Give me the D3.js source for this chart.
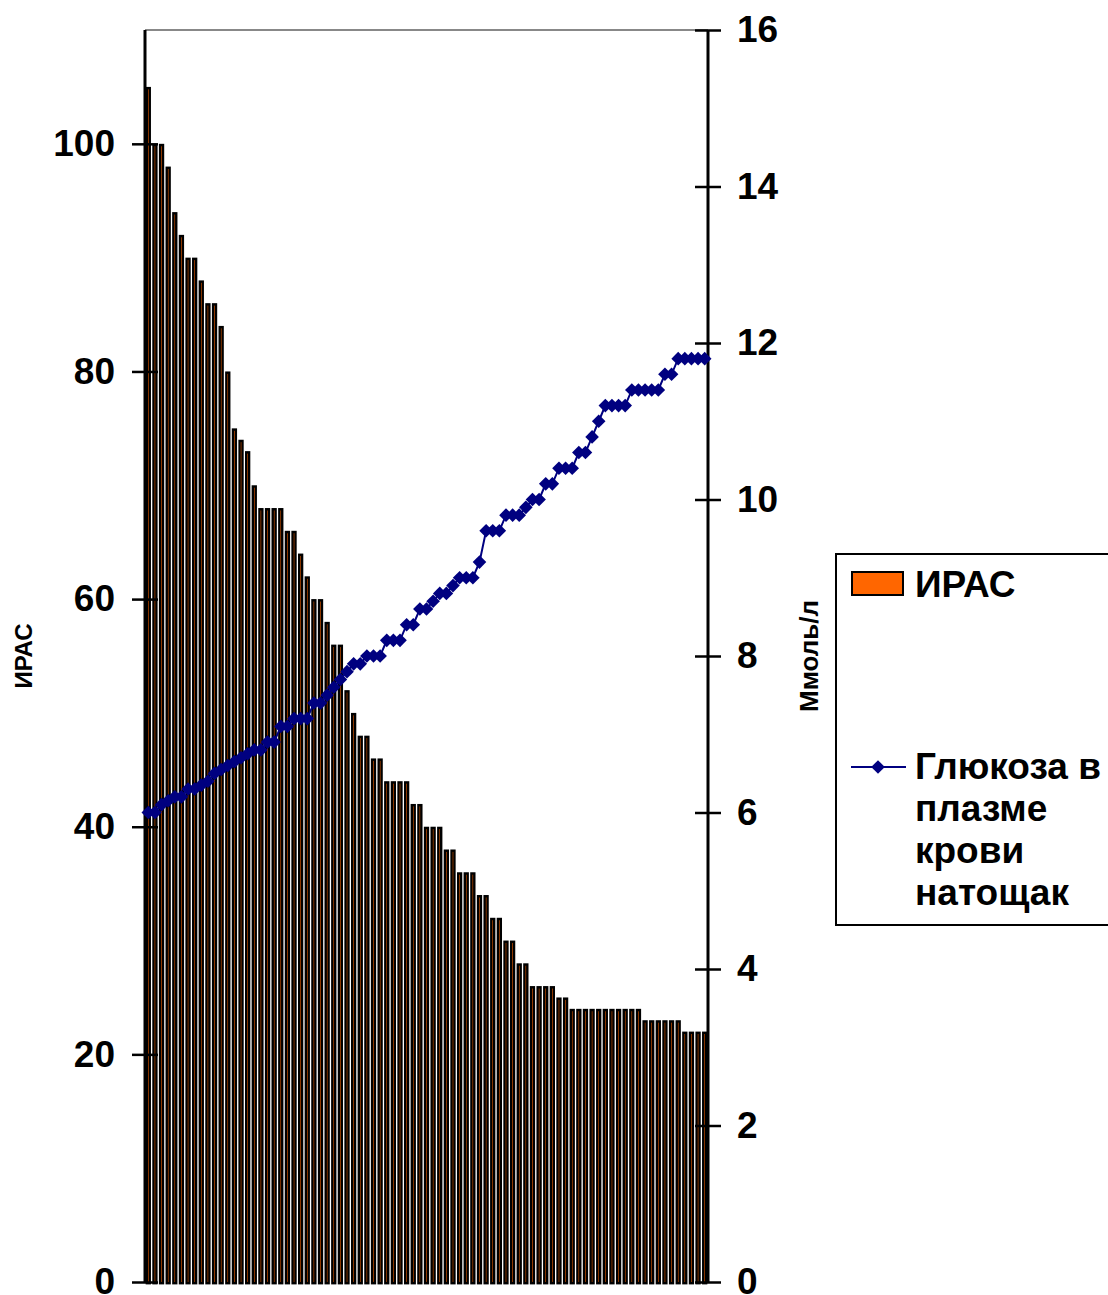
<!DOCTYPE html>
<html>
<head>
<meta charset="utf-8">
<script src="https://cdn.jsdelivr.net/npm/d3@7"></script>
<style>
  body { margin: 0; background: #fff; }
  svg text { font-family: "Liberation Sans", Arial, sans-serif; font-weight: bold; fill: #000; }
</style>
</head>
<body>
<svg id="chart" width="1108" height="1295"></svg>
<script>
// ИРАС per patient (sorted descending)
const iracValues = [
  105, 100, 100, 98, 94, 92, 90, 90, 88, 86, 86, 84, 80, 75, 74, 73, 70,
  68, 68, 68, 68, 66, 66, 64, 62, 60, 60, 58, 56, 56, 52, 50, 48, 48,
  46, 46, 44, 44, 44, 44, 42, 42, 40, 40, 40, 38, 38, 36, 36, 36, 34, 34,
  32, 32, 30, 30, 28, 28, 26, 26, 26, 26, 25, 25,
  24, 24, 24, 24, 24, 24, 24, 24, 24, 24, 24,
  23, 23, 23, 23, 23, 23, 22, 22, 22, 22
];

// fasting plasma glucose, mmol/l
const glucoseValues = [
  6.0, 6.0, 6.1, 6.15, 6.2, 6.2, 6.3, 6.3, 6.35, 6.4, 6.5, 6.55, 6.6, 6.65,
  6.7, 6.75, 6.8, 6.8, 6.9, 6.9, 7.1, 7.1, 7.2, 7.2, 7.2, 7.4, 7.4, 7.5,
  7.6, 7.7, 7.8, 7.9, 7.9, 8.0, 8.0, 8.0, 8.2, 8.2, 8.2, 8.4, 8.4, 8.6,
  8.6, 8.7, 8.8, 8.8, 8.9, 9.0, 9.0, 9.0, 9.2, 9.6, 9.6, 9.6, 9.8, 9.8,
  9.8, 9.9, 10.0, 10.0, 10.2, 10.2, 10.4, 10.4, 10.4, 10.6, 10.6, 10.8,
  11.0, 11.2, 11.2, 11.2, 11.2, 11.4, 11.4, 11.4, 11.4, 11.4, 11.6, 11.6,
  11.8, 11.8, 11.8, 11.8, 11.8
];

const categories = iracValues.map((d, i) => i + 1);
const leftTicks = [0, 20, 40, 60, 80, 100];
const rightTicks = [0, 2, 4, 6, 8, 10, 12, 14, 16];
const leftTitle = "ИРАС";
const rightTitle = "Ммоль/л";
const barLegend = "ИРАС";
const lineLegend = ["Глюкоза в", "плазме", "крови", "натощак"];

const plot = { left: 145, right: 708, top: 30, bottom: 1282 };
const svg = d3.select("#chart");

const x = d3.scaleBand()
  .domain(categories)
  .range([plot.left, plot.right])
  .paddingInner(0.2)
  .paddingOuter(0.1);

const yLeft = d3.scaleLinear().domain([0, 110]).range([plot.bottom, plot.top]);
const yRight = d3.scaleLinear().domain([0, 16]).range([plot.bottom, plot.top]);

// top border of plot area
svg.append("line")
  .attr("x1", plot.left).attr("x2", plot.right)
  .attr("y1", plot.top).attr("y2", plot.top)
  .attr("stroke", "#888").attr("stroke-width", 2);

// bars: thick black outline leaves only a thin orange core, like the original
const bw = x.bandwidth();
svg.append("g")
  .selectAll("rect")
  .data(iracValues)
  .join("rect")
  .attr("x", (d, i) => x(categories[i]) + 1.2)
  .attr("width", bw - 2.4)
  .attr("y", d => yLeft(d) + 1.2)
  .attr("height", d => yLeft(0) - yLeft(d))
  .attr("fill", "#FF6600")
  .attr("stroke", "#000")
  .attr("stroke-width", 2.4);

// axes
const axisL = svg.append("g")
  .attr("transform", `translate(${plot.left},0)`)
  .call(d3.axisLeft(yLeft).tickValues(leftTicks).tickSize(13).tickPadding(17));
const axisR = svg.append("g")
  .attr("transform", `translate(${plot.right},0)`)
  .call(d3.axisRight(yRight).tickValues(rightTicks).tickSize(13).tickPadding(16));

[axisL, axisR].forEach(ax => {
  ax.select(".domain").attr("stroke", "#000").attr("stroke-width", 3)
    .attr("d", `M0,${plot.top}V${plot.bottom}`);
  ax.selectAll(".tick line").attr("stroke", "#000").attr("stroke-width", 2.5);
  ax.selectAll(".tick text")
    .attr("font-size", 37)
    .attr("font-family", "'Liberation Sans', Arial, sans-serif")
    .attr("font-weight", "bold")
    .attr("fill", "#000");
});
axisL.selectAll(".tick line").attr("x1", 13);
axisR.selectAll(".tick line").attr("x1", -13);

// glucose line
const cx = (d, i) => x(categories[i]) + bw / 2;
const line = d3.line().x(cx).y(d => yRight(d));
svg.append("path")
  .datum(glucoseValues)
  .attr("d", line)
  .attr("fill", "none")
  .attr("stroke", "#000080")
  .attr("stroke-width", 2);

const diamond = "M0,-6.8L6.8,0L0,6.8L-6.8,0Z";
svg.append("g")
  .selectAll("path")
  .data(glucoseValues)
  .join("path")
  .attr("d", diamond)
  .attr("transform", (d, i) => `translate(${cx(d, i)},${yRight(d)})`)
  .attr("fill", "#000080");

// axis titles
svg.append("text")
  .attr("transform", "translate(32,656) rotate(-90)")
  .attr("text-anchor", "middle")
  .attr("font-size", 24)
  .text(leftTitle);
svg.append("text")
  .attr("transform", "translate(818,656) rotate(-90)")
  .attr("text-anchor", "middle")
  .attr("font-size", 26)
  .text(rightTitle);

// legend
const lg = svg.append("g");
lg.append("rect")
  .attr("x", 836).attr("y", 554).attr("width", 320).attr("height", 371)
  .attr("fill", "#fff").attr("stroke", "#000").attr("stroke-width", 2);
lg.append("rect")
  .attr("x", 852).attr("y", 572).attr("width", 51).attr("height", 23)
  .attr("fill", "#FF6600").attr("stroke", "#000").attr("stroke-width", 2);
lg.append("text")
  .attr("x", 915).attr("y", 597)
  .attr("font-size", 37)
  .text(barLegend);
lg.append("line")
  .attr("x1", 851).attr("x2", 906).attr("y1", 767).attr("y2", 767)
  .attr("stroke", "#000080").attr("stroke-width", 2);
lg.append("path")
  .attr("d", diamond)
  .attr("transform", "translate(878,767)")
  .attr("fill", "#000080");
lg.append("text")
  .attr("font-size", 37)
  .selectAll("tspan")
  .data(lineLegend)
  .join("tspan")
  .attr("x", 915)
  .attr("y", (d, i) => 779 + i * 42)
  .text(d => d);
</script>
</body>
</html>
